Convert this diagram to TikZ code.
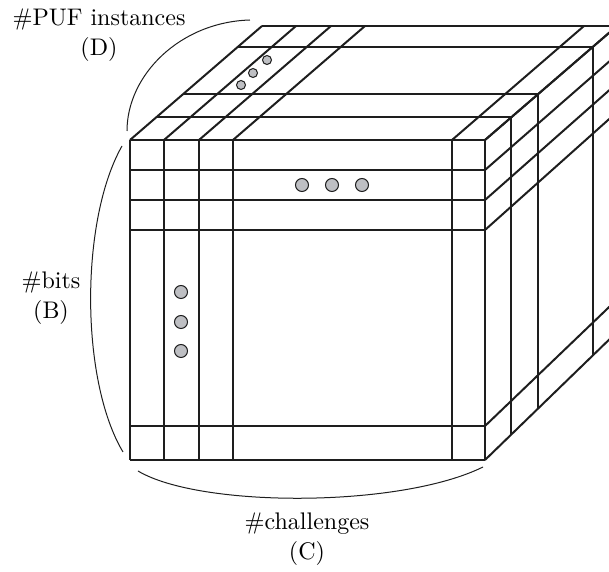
\documentclass[tikz,border=0pt]{standalone}
\usetikzlibrary{calc}
\definecolor{dotgray}{RGB}{190,191,195}
\definecolor{linegray}{RGB}{30,30,30}
% point on the cube: across (px), down (px), depth (0..1)
\newcommand{\cubept}[3]{({130+#1+132*#3},{140-114*#3+#2*(1-0.04375*#3)})}
\tikzset{
	gridline/.style={draw=linegray, line width=0.8pt},
	pufdot/.style={circle, draw=linegray, fill=dotgray, line width=0.4pt, inner sep=0pt, minimum size=5.2pt},
	smalldot/.style={pufdot, minimum size=3.6pt},
	bracket/.style={draw=linegray, line width=0.4pt},
	axislabel/.style={align=center, font=\fontsize{9.6}{12}\selectfont}
}
\begin{document}
\begin{tikzpicture}[x=0.4pt, y=-0.4pt]
		\useasboundingbox (0,0) rectangle (609,572);
		\clip (0,0) rectangle (609,572);
		
		% columns: front face and top face
		\foreach \a in {0,34,69,103,322,355} {
			\draw[gridline] \cubept{\a}{0}{0} -- \cubept{\a}{320}{0};
			\draw[gridline] \cubept{\a}{0}{0} -- \cubept{\a}{0}{1};
		}
		% rows: front face and right face
		\foreach \b in {0,30,60,90,286,320} {
			\draw[gridline] \cubept{0}{\b}{0} -- \cubept{355}{\b}{0};
			\draw[gridline] \cubept{355}{\b}{0} -- \cubept{355}{\b}{1};
		}
		% depth slices
		\foreach \d in {0.2,0.4,0.82,1} {
			\draw[gridline] \cubept{0}{0}{\d} -- \cubept{355}{0}{\d} -- \cubept{355}{320}{\d};
		}
		
		\node[pufdot] (row1) at (302,185) {};
		\node[pufdot] (row2) at (332,185) {};
		\node[pufdot] (row3) at (362,185) {};
		\node[pufdot] (col1) at (181,292) {};
		\node[pufdot] (col2) at (181,322) {};
		\node[pufdot] (col3) at (181,351) {};
		\node[smalldot] (dep1) at (241,85) {};
		\node[smalldot] (dep2) at (253,73) {};
		\node[smalldot] (dep3) at (267,60) {};
		
		\node[axislabel] (instances) at (99,35) {\#PUF instances\\(D)};
		\node[axislabel] (bits) at (51,298) {\#bits\\(B)};
		\node[axislabel] (challenges) at (307,539) {\#challenges\\(C)};
		
		\coordinate (dlow) at (127,131);
		\coordinate (dhigh) at (250,20);
		\coordinate (btop) at (122,146);
		\coordinate (bbot) at (123,452);
		\coordinate (cleft) at (138,471);
		\coordinate (cright) at (483,467);
		\path[bracket] (dlow) .. controls (127,75) and (180,22) .. (dhigh);
		\path[bracket] (btop) .. controls (80,220) and (80,380) .. (bbot);
		\path[bracket] (cleft) .. controls (200,508) and (400,508) .. (cright);
	\end{tikzpicture}
\end{document}
